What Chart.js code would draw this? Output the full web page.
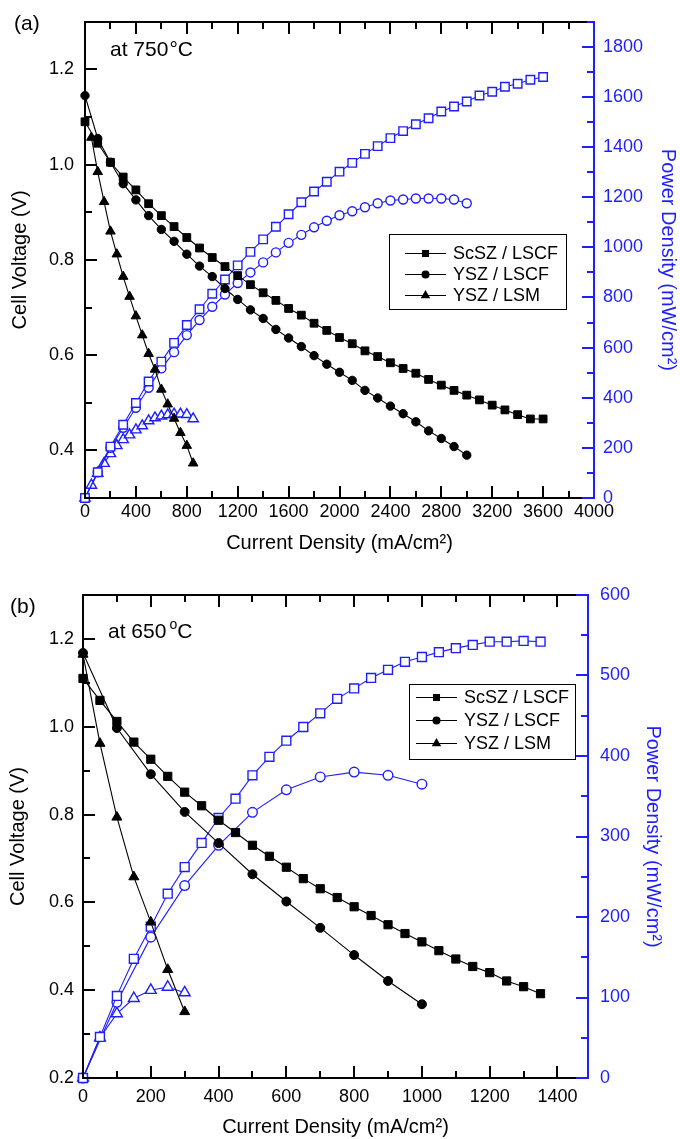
<!DOCTYPE html>
<html>
<head>
<meta charset="utf-8">
<script src="https://cdn.jsdelivr.net/npm/chart.js@4.4.0/dist/chart.umd.min.js"></script>
<style>
  body { margin: 0; background: #fff; width: 680px; height: 1139px; overflow: hidden; }
  .panel { position: relative; width: 680px; }
  .panel canvas { display: block; }
  .panel canvas.over { position: absolute; left: 0; top: 0; pointer-events: none; }
</style>
</head>
<body>
<div class="panel" style="height:560px">
  <canvas id="chartA" width="680" height="560"></canvas>
  <canvas id="overA" class="over" width="680" height="560"></canvas>
</div>
<div class="panel" style="height:579px">
  <canvas id="chartB" width="680" height="579"></canvas>
  <canvas id="overB" class="over" width="680" height="579"></canvas>
</div>
<script>
// ---- datos panel (a) 750 C ----
const seriesNames = ["ScSZ / LSCF", "YSZ / LSCF", "YSZ / LSM"];

const curA_sq = [0, 100, 200, 300, 400, 500, 600, 700, 800, 900, 1000, 1100, 1200, 1300, 1400, 1500, 1600, 1700, 1800, 1900,
                 2000, 2100, 2200, 2300, 2400, 2500, 2600, 2700, 2800, 2900, 3000, 3100, 3200, 3300, 3400, 3500, 3600];
const voltA_sq = [1.09, 1.045, 1.005, 0.974, 0.947, 0.918, 0.893, 0.870, 0.847, 0.825, 0.805, 0.786, 0.767, 0.748, 0.731, 0.715, 0.698, 0.684, 0.667, 0.652,
                  0.637, 0.624, 0.609, 0.597, 0.584, 0.572, 0.562, 0.549, 0.537, 0.526, 0.516, 0.506, 0.495, 0.485, 0.475, 0.466, 0.466];
const powA_sq = [0, 103, 205, 292, 379, 465, 544, 619, 690, 753, 815, 872, 928, 982, 1032, 1082, 1132, 1180, 1223, 1262,
                 1302, 1337, 1373, 1404, 1436, 1464, 1491, 1515, 1542, 1562, 1582, 1606, 1621, 1641, 1653, 1669, 1680];

const curA_ci = [0, 100, 200, 300, 400, 500, 600, 700, 800, 900, 1000, 1100, 1200, 1300, 1400, 1500, 1600, 1700, 1800, 1900,
                 2000, 2100, 2200, 2300, 2400, 2500, 2600, 2700, 2800, 2900, 3000];
const voltA_ci = [1.145, 1.055, 1.005, 0.96, 0.926, 0.893, 0.864, 0.839, 0.812, 0.787, 0.765, 0.74, 0.717, 0.695, 0.677, 0.654, 0.636, 0.618, 0.599, 0.581,
                  0.564, 0.547, 0.526, 0.51, 0.493, 0.477, 0.46, 0.441, 0.425, 0.408, 0.39];
const powA_ci = [0, 103, 200, 280, 360, 440, 517, 582, 650, 710, 763, 812, 858, 900, 940, 980, 1018, 1050, 1080, 1106,
                 1128, 1144, 1160, 1176, 1187, 1191, 1195, 1195, 1195, 1191, 1176];

const curA_trV = [50, 100, 150, 200, 250, 300, 350, 400, 450, 500, 550, 600, 650, 700, 750, 800, 850];
const voltA_tr = [1.057, 0.985, 0.922, 0.86, 0.812, 0.765, 0.723, 0.682, 0.642, 0.603, 0.57, 0.528, 0.497, 0.467, 0.437, 0.41, 0.373];
const curA_trP = [0, 50, 100, 150, 200, 250, 300, 350, 400, 450, 500, 550, 600, 650, 700, 750, 800, 850];
const powA_tr = [0, 51, 99, 138, 177, 209, 233, 252, 272, 288, 308, 320, 327, 332, 335, 335, 333, 316];

const xTicksA = [0, 400, 800, 1200, 1600, 2000, 2400, 2800, 3200, 3600, 4000];
const vTicksA = [0.4, 0.6, 0.8, 1.0, 1.2];
const pTicksA = [0, 200, 400, 600, 800, 1000, 1200, 1400, 1600, 1800];

// ---- datos panel (b) 650 C ----
const curB_sq = [0, 50, 100, 150, 200, 250, 300, 350, 400, 450, 500, 550, 600, 650, 700, 750, 800, 850, 900, 950,
                 1000, 1050, 1100, 1150, 1200, 1250, 1300, 1350];
const voltB_sq = [1.11, 1.06, 1.012, 0.965, 0.926, 0.887, 0.851, 0.82, 0.787, 0.759, 0.73, 0.705, 0.68, 0.654, 0.631, 0.611, 0.59, 0.57, 0.549, 0.529,
                  0.51, 0.49, 0.471, 0.454, 0.44, 0.421, 0.408, 0.392];
const powB_sq = [0, 51, 102, 148, 188, 229, 262, 292, 323, 347, 376, 399, 419, 436, 453, 471, 484, 497, 507, 517,
                 523, 529, 534, 538, 542, 542, 543, 542];

const curB_ci = [0, 100, 200, 300, 400, 500, 600, 700, 800, 900, 1000];
const voltB_ci = [1.168, 0.997, 0.892, 0.806, 0.735, 0.664, 0.602, 0.542, 0.48, 0.421, 0.368];
const powB_ci = [0, 94, 175, 239, 289, 330, 358, 374, 380, 376, 365];

const curB_tr = [0, 50, 100, 150, 200, 250, 300];
const voltB_tr = [1.165, 0.962, 0.794, 0.658, 0.555, 0.447, 0.351];
const powB_tr = [0, 50, 80, 99, 109, 113, 106];

const xTicksB = [0, 200, 400, 600, 800, 1000, 1200, 1400];
const vTicksB = [0.2, 0.4, 0.6, 0.8, 1.0, 1.2];
const pTicksB = [0, 100, 200, 300, 400, 500, 600];

// ---- estilos ----
const BLUE = '#1e1eff';
const FONT = "'Liberation Sans', Arial, sans-serif";

function pts(xs, ys) {
    return xs.map((x, i) => ({ x: x, y: ys[i] }));
}

function serie(label, xs, ys, axis, shape, filled, radius) {
    const col = filled ? '#000' : BLUE;
    return {
        label: label,
        data: pts(xs, ys),
        yAxisID: axis,
        borderColor: col,
        backgroundColor: filled ? '#000' : '#fff',
        borderWidth: 1.1,
        pointStyle: shape,
        pointRadius: radius,
        pointBorderColor: col,
        pointBackgroundColor: filled ? '#000' : '#fff',
        pointBorderWidth: filled ? 1 : 1.4,
        clip: false,
        tension: 0
    };
}

// valores de marcas: mayores (las del eje) y menores cada 'step'
function markList(majors, min, max, step) {
    const out = majors.map(v => ({ v: v, major: true }));
    const k0 = Math.ceil(min / step - 1e-9);
    const k1 = Math.floor(max / step + 1e-9);
    for (let k = k0; k <= k1; k++) {
        const v = k * step;
        if (!majors.some(m => Math.abs(m - v) < step / 10)) out.push({ v: v, major: false });
    }
    return out;
}

// marco y marcas hacia dentro, en un lienzo superpuesto
function drawAxes(chart, canvas, spec) {
    const ctx = canvas.getContext('2d');
    const a = chart.chartArea;
    const sx = chart.scales.x, sl = chart.scales.yL, sr = chart.scales.yR;
    const MAJ = 12, SHORT = 7, W = 2;
    const L = Math.round(a.left), R = Math.round(a.right);
    const T = Math.round(a.top), B = Math.round(a.bottom);

    ctx.clearRect(0, 0, canvas.width, canvas.height);
    ctx.fillStyle = '#000';
    markList(spec.x, sx.min, sx.max, spec.xMinor).forEach(m => {
        const px = Math.round(sx.getPixelForValue(m.v));
        const len = m.major ? MAJ : SHORT;
        ctx.fillRect(px - 1, B - len, W, len);
        ctx.fillRect(px - 1, T, W, len);
    });
    markList(spec.yL, sl.min, sl.max, spec.yLMinor).forEach(m => {
        const py = Math.round(sl.getPixelForValue(m.v));
        ctx.fillRect(L, py - 1, m.major ? MAJ : SHORT, W);
    });
    ctx.fillRect(L - 1, T - 1, R - L + 1, W);
    ctx.fillRect(L - 1, B - 1, R - L + 1, W);
    ctx.fillRect(L - 1, T - 1, W, B - T + 2);

    ctx.fillStyle = BLUE;
    markList(spec.yR, sr.min, sr.max, spec.yRMinor).forEach(m => {
        const py = Math.round(sr.getPixelForValue(m.v));
        const len = m.major ? MAJ : SHORT;
        ctx.fillRect(R - len, py - 1, len, W);
    });
    ctx.fillRect(R - 1, T - 1, W, B - T + 2);
}

function marker(ctx, shape, x, y, r) {
    ctx.beginPath();
    if (shape === 'rect') {
        const s = r * Math.SQRT1_2;
        ctx.rect(x - s, y - s, 2 * s, 2 * s);
    } else if (shape === 'circle') {
        ctx.arc(x, y, r, 0, Math.PI * 2);
    } else {
        ctx.moveTo(x, y - r);
        ctx.lineTo(x + r * 0.866, y + r * 0.5);
        ctx.lineTo(x - r * 0.866, y + r * 0.5);
        ctx.closePath();
    }
    ctx.fill();
}

// textos: (a)/(b), temperatura y leyenda con recuadro
function makeText(o) {
    return {
        id: 'panelText',
        afterDraw(chart) {
            const ctx = chart.ctx;
            ctx.save();
            ctx.fillStyle = '#000';
            ctx.textAlign = 'left';
            ctx.textBaseline = 'alphabetic';
            ctx.font = `21px ${FONT}`;
            ctx.fillText(o.tag, o.tagX, o.tagY);

            const t = o.temp;
            ctx.fillText(t.main, t.x, t.y);
            let w = ctx.measureText(t.main).width + t.gap;
            ctx.font = `${t.supSize}px ${FONT}`;
            ctx.fillText(t.sup, t.x + w, t.y - t.rise);
            w += ctx.measureText(t.sup).width;
            ctx.font = `21px ${FONT}`;
            ctx.fillText('C', t.x + w, t.y);

            const L = o.legend;
            ctx.lineWidth = 1;
            ctx.strokeStyle = '#000';
            ctx.strokeRect(L.x0 + 0.5, L.y0 + 0.5, L.x1 - L.x0, L.y1 - L.y0);
            ctx.font = `18px ${FONT}`;
            ctx.textBaseline = 'middle';
            const shapes = ['rect', 'circle', 'triangle'];
            const radii = [5, 4, 5.5];
            seriesNames.forEach((name, i) => {
                const y = L.rows[i];
                ctx.beginPath();
                ctx.moveTo(L.lx0, y + 0.5);
                ctx.lineTo(L.lx1, y + 0.5);
                ctx.stroke();
                marker(ctx, shapes[i], (L.lx0 + L.lx1) / 2, y + 0.5, radii[i]);
                ctx.fillText(name, L.tx, y + 1);
            });
            ctx.restore();
        }
    };
}

function tickFont() {
    return { family: FONT, size: 18 };
}

function buildChart(id, overId, cfg) {
    const datasets = [
        serie(seriesNames[0], cfg.cSq, cfg.vSq, 'yL', 'rect', true, cfg.rSq),
        serie(seriesNames[1], cfg.cCi, cfg.vCi, 'yL', 'circle', true, cfg.rCi),
        serie(seriesNames[2], cfg.cTrV, cfg.vTr, 'yL', 'triangle', true, cfg.rTr),
        serie(seriesNames[0], cfg.cSq, cfg.pSq, 'yR', 'rect', false, cfg.rSq + 0.5),
        serie(seriesNames[1], cfg.cCi, cfg.pCi, 'yR', 'circle', false, cfg.rCi + 0.3),
        serie(seriesNames[2], cfg.cTrP, cfg.pTr, 'yR', 'triangle', false, cfg.rTr + 0.5)
    ];
    const mk = cfg.marks;

    const chart = new Chart(document.getElementById(id), {
        type: 'line',
        data: { datasets: datasets },
        plugins: [makeText(cfg.text)],
        options: {
            responsive: false,
            animation: false,
            devicePixelRatio: 1,
            layout: { padding: { top: cfg.padTop, left: 0, right: 0, bottom: 0 } },
            plugins: {
                legend: { display: false },
                tooltip: { enabled: false }
            },
            scales: {
                x: {
                    type: 'linear',
                    min: 0,
                    max: cfg.xMax,
                    afterBuildTicks: s => { s.ticks = mk.x.map(v => ({ value: v })); },
                    afterFit: s => { s.height = cfg.xH; },
                    grid: { display: false, drawTicks: false },
                    border: { display: false },
                    ticks: { color: '#000', font: tickFont(), padding: cfg.xPad, maxRotation: 0, autoSkip: false,
                             callback: v => String(v) },
                    title: {
                        display: true, text: 'Current Density (mA/cm²)', color: '#000',
                        font: { family: FONT, size: 20 }, padding: { top: 0, bottom: cfg.xTitlePad }
                    }
                },
                yL: {
                    type: 'linear',
                    position: 'left',
                    min: cfg.vMin,
                    max: 1.3,
                    afterBuildTicks: s => { s.ticks = mk.yL.map(v => ({ value: v })); },
                    afterFit: s => { s.width = cfg.leftW; },
                    grid: { display: false, drawTicks: false },
                    border: { display: false },
                    ticks: { color: '#000', font: tickFont(), padding: cfg.lPad, autoSkip: false,
                             callback: v => v.toFixed(1) },
                    title: {
                        display: true, text: 'Cell Voltage (V)', color: '#000',
                        font: { family: FONT, size: 20 }, padding: { top: cfg.lTitlePad, bottom: 0 }
                    }
                },
                yR: {
                    type: 'linear',
                    position: 'right',
                    min: 0,
                    max: cfg.pMax,
                    afterBuildTicks: s => { s.ticks = mk.yR.map(v => ({ value: v })); },
                    afterFit: s => { s.width = cfg.rightW; },
                    grid: { display: false, drawTicks: false, drawOnChartArea: false },
                    border: { display: false },
                    ticks: { color: BLUE, font: tickFont(), padding: cfg.rPad, autoSkip: false,
                             callback: v => String(v) },
                    title: {
                        display: true, text: 'Power Density (mW/cm²)', color: BLUE,
                        font: { family: FONT, size: 20 }, padding: { top: cfg.rTitlePad, bottom: 0 }
                    }
                }
            }
        }
    });

    drawAxes(chart, document.getElementById(overId), mk);
    return chart;
}

buildChart('chartA', 'overA', {
    cSq: curA_sq, vSq: voltA_sq, pSq: powA_sq,
    cCi: curA_ci, vCi: voltA_ci, pCi: powA_ci,
    cTrV: curA_trV, vTr: voltA_tr, cTrP: curA_trP, pTr: powA_tr,
    rSq: 5.5, rCi: 4.2, rTr: 5.5,
    xMax: 4000, vMin: 0.3, pMax: 1900,
    padTop: 16, xH: 62, leftW: 85, rightW: 86,
    xPad: 3, lPad: 11, rPad: 9, xTitlePad: 5, lTitlePad: 8, rTitlePad: 0,
    marks: { x: xTicksA, yL: vTicksA, yR: pTicksA, xMinor: 200, yLMinor: 0.1, yRMinor: 100 },
    text: {
        tag: '(a)', tagX: 14, tagY: 30,
        temp: { main: 'at 750', sup: '°', supSize: 21, gap: 1, rise: 0, x: 110, y: 56 },
        legend: { x0: 389, y0: 234, x1: 566, y1: 309, rows: [253, 274, 295], lx0: 405, lx1: 446, tx: 453 }
    }
});

buildChart('chartB', 'overB', {
    cSq: curB_sq, vSq: voltB_sq, pSq: powB_sq,
    cCi: curB_ci, vCi: voltB_ci, pCi: powB_ci,
    cTrV: curB_tr, vTr: voltB_tr, cTrP: curB_tr, pTr: powB_tr,
    rSq: 5.8, rCi: 4.5, rTr: 5.8,
    xMax: 1490, vMin: 0.2, pMax: 600,
    padTop: 35, xH: 61, leftW: 83, rightW: 92,
    xPad: 8, lPad: 9, rPad: 12, xTitlePad: 0, lTitlePad: 6, rTitlePad: 15,
    marks: { x: xTicksB, yL: vTicksB, yR: pTicksB, xMinor: 100, yLMinor: 0.1, yRMinor: 50 },
    text: {
        tag: '(b)', tagX: 10, tagY: 53,
        temp: { main: 'at 650', sup: 'o', supSize: 14, gap: 3, rise: 9, x: 108, y: 78 },
        legend: { x0: 409, y0: 124, x1: 575, y1: 199, rows: [137, 160, 183], lx0: 416, lx1: 457, tx: 464 }
    }
});
</script>
</body>
</html>
